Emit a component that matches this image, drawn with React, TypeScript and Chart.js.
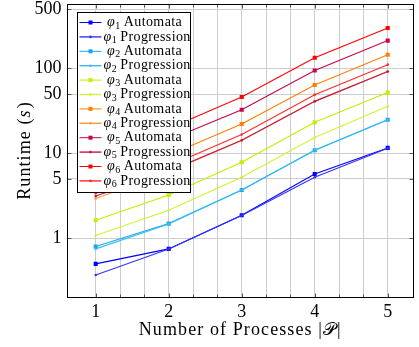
import { useEffect, useRef } from 'react';
import { Chart, registerables } from 'chart.js';

Chart.register(...registerables);

// Number of processes |P| on the x axis
const processes = [1, 2, 3, 4, 5];
// Grid / tick positions along x (major at integers, two minors between)
const xGridTicks = [1, 4 / 3, 5 / 3, 2, 7 / 3, 8 / 3, 3, 10 / 3, 11 / 3, 4, 13 / 3, 14 / 3, 5];
// Runtime ticks on the log axis
const yTicks = [1, 5, 10, 50, 100, 500];

// Runtime in seconds
const phi1Automata = [0.5, 0.75, 1.87, 5.72, 11.6];
const phi1Progression = [0.37, 0.75, 1.85, 5.23, 11.5];
const phi2Automata = [0.8, 1.49, 3.7, 10.9, 24.9];
const phi2Progression = [0.75, 1.47, 3.7, 10.9, 24.9];
const phi3Automata = [1.63, 3.23, 7.87, 23.2, 52];
const phi3Progression = [1.08, 2.14, 5.23, 15.4, 35.8];
const phi4Automata = [4.5, 9.5, 22.2, 64, 145];
const phi4Progression = [2.95, 6.1, 14.2, 41, 92];
const phi5Automata = [6.9, 14.4, 32.7, 94.7, 213];
const phi5Progression = [3.15, 6.15, 14.3, 41, 92];
const phi6Automata = [9.4, 19.7, 46.2, 134, 300];
const phi6Progression = [3.4, 7.1, 16.7, 49.2, 111];

type Series = { phi: number; kind: 'Automata' | 'Progression'; values: number[]; color: string };

const series: Series[] = [
  { phi: 1, kind: 'Automata', values: phi1Automata, color: '#0000ff' },
  { phi: 1, kind: 'Progression', values: phi1Progression, color: '#3333ff' },
  { phi: 2, kind: 'Automata', values: phi2Automata, color: '#12a8ee' },
  { phi: 2, kind: 'Progression', values: phi2Progression, color: '#38bcf2' },
  { phi: 3, kind: 'Automata', values: phi3Automata, color: '#bff000' },
  { phi: 3, kind: 'Progression', values: phi3Progression, color: '#cdf530' },
  { phi: 4, kind: 'Automata', values: phi4Automata, color: '#ff7f00' },
  { phi: 4, kind: 'Progression', values: phi4Progression, color: '#ff9a3a' },
  { phi: 5, kind: 'Automata', values: phi5Automata, color: '#c4064a' },
  { phi: 5, kind: 'Progression', values: phi5Progression, color: '#c2184c' },
  { phi: 6, kind: 'Automata', values: phi6Automata, color: '#ff0000' },
  { phi: 6, kind: 'Progression', values: phi6Progression, color: '#ff2a2a' },
];

const SERIF = '"Liberation Serif", "Times New Roman", serif';

const isWhole = (v: number) => Math.abs(v - Math.round(v)) < 1e-6;

function drawPhiLabel(ctx: CanvasRenderingContext2D, x: number, y: number, phi: number, word: string) {
  ctx.save();
  ctx.fillStyle = '#000';
  ctx.textBaseline = 'middle';
  ctx.textAlign = 'left';
  (ctx as any).letterSpacing = '0px';
  ctx.font = `italic 14px ${SERIF}`;
  ctx.fillText('φ', x, y);
  let cx = x + ctx.measureText('φ').width + 0.5;
  ctx.font = `10px ${SERIF}`;
  ctx.fillText(String(phi), cx, y + 3.5);
  cx += ctx.measureText(String(phi)).width + 3.5;
  ctx.font = `14px ${SERIF}`;
  (ctx as any).letterSpacing = '0.4px';
  ctx.fillText(word, cx, y);
  ctx.restore();
}

const decorations = {
  id: 'decorations',
  afterDatasetsDraw(chart: Chart) {
    const { ctx, chartArea: a, scales } = chart;
    const xs = scales.x;
    const ys = scales.y;
    const L = Math.round(a.left) + 0.5;
    const R = Math.round(a.right) - 0.5;
    const T = Math.round(a.top) + 0.5;
    const B = Math.round(a.bottom) - 0.5;
    ctx.save();
    ctx.strokeStyle = '#555';
    ctx.lineWidth = 1;
    ctx.beginPath();
    for (const v of xGridTicks) {
      const px = Math.round(xs.getPixelForValue(v)) + 0.5;
      const len = isWhole(v) ? 4 : 3;
      ctx.moveTo(px, B);
      ctx.lineTo(px, B - len);
      ctx.moveTo(px, T);
      ctx.lineTo(px, T + len);
    }
    for (const v of yTicks) {
      const py = Math.round(ys.getPixelForValue(v)) + 0.5;
      ctx.moveTo(L, py);
      ctx.lineTo(L + 4, py);
      ctx.moveTo(R, py);
      ctx.lineTo(R - 4, py);
    }
    ctx.stroke();
    ctx.strokeStyle = '#000';
    ctx.strokeRect(L, T, R - L, B - T);
    ctx.restore();
  },
  afterDraw(chart: Chart) {
    const { ctx, chartArea: a } = chart;
    ctx.save();

    // Legend box in the upper-left corner of the plot
    const lx = Math.round(a.left + 10) + 0.5;
    const ly = Math.round(a.top + 8) + 0.5;
    const lw = 113;
    const lh = 180;
    ctx.fillStyle = '#fff';
    ctx.fillRect(lx, ly, lw, lh);
    ctx.strokeStyle = '#000';
    ctx.lineWidth = 1;
    ctx.strokeRect(lx, ly, lw, lh);
    series.forEach((s, i) => {
      const cy = ly + 10 + i * 14.4;
      ctx.strokeStyle = s.color;
      ctx.lineWidth = s.kind === 'Automata' ? 1 : 1.4;
      ctx.beginPath();
      ctx.moveTo(lx + 2, cy);
      ctx.lineTo(lx + 24, cy);
      ctx.stroke();
      ctx.fillStyle = s.color;
      if (s.kind === 'Automata') ctx.fillRect(lx + 11, cy - 2, 4, 4);
      else {
        ctx.beginPath();
        ctx.arc(lx + 13, cy, 1.3, 0, Math.PI * 2);
        ctx.fill();
      }
      drawPhiLabel(ctx, lx + (s.kind === 'Automata' ? 29.5 : 26), cy, s.phi, s.kind);
    });

    // Axis titles
    ctx.fillStyle = '#000';
    ctx.textBaseline = 'middle';
    (ctx as any).letterSpacing = '1.1px';
    const xt1 = 'Number of Processes |';
    ctx.font = `18px ${SERIF}`;
    const w1 = ctx.measureText(xt1).width;
    const wP = ctx.measureText('𝒫').width;
    const wBar = ctx.measureText('|').width;
    const total = w1 + wP + wBar;
    let x0 = (a.left + a.right) / 2 - total / 2;
    const yx = a.bottom + 32;
    ctx.textAlign = 'left';
    ctx.fillText(xt1, x0, yx);
    x0 += w1;
    ctx.fillText('𝒫', x0, yx);
    x0 += wP;
    ctx.fillText('|', x0, yx);

    // Rotated y title
    ctx.translate(25, (a.top + a.bottom) / 2);
    ctx.rotate(-Math.PI / 2);
    const yt1 = 'Runtime (';
    const wa = ctx.measureText(yt1).width;
    ctx.font = `italic 18px ${SERIF}`;
    const ws = ctx.measureText('s').width;
    ctx.font = `18px ${SERIF}`;
    const wc = ctx.measureText(')').width;
    let y0 = -(wa + ws + wc) / 2;
    ctx.fillText(yt1, y0, 0);
    y0 += wa;
    ctx.font = `italic 18px ${SERIF}`;
    ctx.fillText('s', y0, 0);
    y0 += ws + 1;
    ctx.font = `18px ${SERIF}`;
    ctx.fillText(')', y0, 0);
    ctx.restore();
  },
};

export default function App() {
  const ref = useRef<HTMLCanvasElement>(null);

  useEffect(() => {
    const canvas = ref.current;
    if (!canvas) return;
    const chart = new Chart(canvas, {
      type: 'line',
      data: {
        datasets: series.map((s, i) => ({
          label: `φ${s.phi} ${s.kind}`,
          data: processes.map((x, k) => ({ x, y: s.values[k] })),
          borderColor: s.color,
          backgroundColor: s.color,
          borderWidth: 1.1,
          pointStyle: s.kind === 'Automata' ? 'rect' : 'circle',
          pointRadius: s.kind === 'Automata' ? 2.9 : 1.3,
          pointBorderWidth: 0,
          tension: 0,
          fill: false,
          order: series.length - i,
        })),
      },
      options: {
        animation: false,
        responsive: false,
        devicePixelRatio: 1,
        layout: { padding: { left: 0, right: 5, top: 4, bottom: 0 } },
        plugins: {
          legend: { display: false },
          tooltip: { enabled: false },
          title: { display: false },
        },
        scales: {
          x: {
            type: 'linear',
            min: 0.6,
            max: 5.36,
            afterBuildTicks: (scale: any) => {
              scale.ticks = xGridTicks.map((value) => ({ value }));
            },
            afterFit: (scale: any) => {
              scale.height = 49;
              scale.paddingLeft = 0;
              scale.paddingRight = 0;
            },
            grid: { color: '#cdcdcd', lineWidth: 1, drawTicks: false },
            border: { display: false },
            ticks: {
              autoSkip: false,
              maxRotation: 0,
              padding: 3,
              color: '#000',
              font: { family: SERIF, size: 18 },
              callback: (v: any) => (isWhole(Number(v)) ? String(Math.round(Number(v))) : ''),
            },
          },
          y: {
            type: 'logarithmic',
            min: 0.198,
            max: 575,
            afterBuildTicks: (scale: any) => {
              scale.ticks = yTicks.map((value) => ({ value }));
            },
            afterFit: (scale: any) => {
              scale.width = 66.5;
              scale.paddingTop = 0;
              scale.paddingBottom = 0;
            },
            grid: { color: '#cdcdcd', lineWidth: 1, drawTicks: false },
            border: { display: false },
            ticks: {
              autoSkip: false,
              padding: 5,
              color: '#000',
              font: { family: SERIF, size: 18 },
              callback: (v: any) => String(v),
            },
          },
        },
      },
      plugins: [decorations],
    });
    return () => chart.destroy();
  }, []);

  return (
    <div style={{ position: 'fixed', left: 0, top: 0, width: 419, height: 347, background: '#fff' }}>
      <canvas ref={ref} width={419} height={347} style={{ width: 419, height: 347, display: 'block' }} />
    </div>
  );
}
